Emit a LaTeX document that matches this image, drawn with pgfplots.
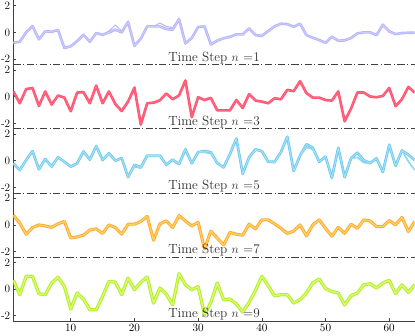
\documentclass[border=0pt]{standalone}
\usepackage{pgfplots}
\pgfplotsset{compat=1.18}
\usepackage{pgfplotstable}

\definecolor{axgray}{RGB}{64,64,64}
\definecolor{lavA}{RGB}{182,182,250}
\definecolor{lavB}{RGB}{205,205,255}
\definecolor{redA}{RGB}{255,84,114}
\definecolor{redB}{RGB}{255,110,135}
\definecolor{bluA}{RGB}{116,199,236}
\definecolor{bluB}{RGB}{160,228,248}
\definecolor{orA}{RGB}{255,166,58}
\definecolor{orB}{RGB}{255,214,90}
\definecolor{grA}{RGB}{172,238,48}
\definecolor{grB}{RGB}{222,250,100}

% step n = 1
\pgfplotstableread[row sep=\\]{
x y y2\\
1 -0.78 -0.78\\ 2 -0.70 -0.70\\ 3 0.00 0.00\\ 4 0.47 0.47\\ 5 -0.52 -0.52\\
6 0.08 0.08\\ 7 0.05 0.05\\ 8 0.18 0.18\\ 9 -1.17 -1.17\\ 10 -1.04 -1.04\\
11 -0.65 -0.65\\ 12 -0.18 -0.18\\ 13 -0.70 -0.70\\ 14 -0.05 -0.05\\ 15 -0.18 -0.18\\
16 0.00 0.10\\ 17 0.20 0.55\\ 18 0.00 0.10\\ 19 0.78 0.78\\ 20 -1.00 -1.00\\
21 -0.47 -0.47\\ 22 0.45 0.45\\ 23 0.45 0.45\\ 24 0.45 0.70\\ 25 0.25 0.45\\
26 0.20 0.35\\ 27 1.00 1.00\\ 28 -0.83 -0.83\\ 29 -0.42 -0.42\\ 30 0.40 0.40\\
31 0.45 0.45\\ 32 -0.90 -0.90\\ 33 -0.62 -0.62\\ 34 -0.44 -0.44\\ 35 -0.33 -0.33\\
36 -0.15 -0.15\\ 37 -0.15 -0.15\\ 38 0.30 0.30\\ 39 -0.20 -0.20\\ 40 -0.26 -0.26\\
41 0.10 0.10\\ 42 0.45 0.45\\ 43 0.65 0.65\\ 44 0.62 0.62\\ 45 0.42 0.42\\
46 0.65 0.65\\ 47 -0.20 -0.20\\ 48 -0.40 -0.40\\ 49 -0.57 -0.57\\ 50 -0.78 -0.78\\
51 -0.33 -0.33\\ 52 -0.62 -0.62\\ 53 -0.60 -0.60\\ 54 -0.42 -0.42\\ 55 -0.08 -0.08\\
56 0.00 0.00\\ 57 0.00 0.00\\ 58 -0.20 -0.20\\ 59 0.57 0.57\\ 60 0.08 0.08\\
61 -0.13 -0.13\\ 62 -0.05 -0.05\\ 63 -0.03 -0.03\\ 64 -0.03 -0.03\\
}\stepA

% step n = 3
\pgfplotstableread[row sep=\\]{
x y\\
1 0.38\\ 2 -0.50\\ 3 0.56\\ 4 0.64\\ 5 -0.70\\ 6 0.38\\ 7 -0.60\\ 8 0.08\\ 9 -0.08\\ 10 -1.10\\
11 0.30\\ 12 0.33\\ 13 -0.50\\ 14 0.82\\ 15 -0.50\\ 16 0.38\\ 17 -0.56\\ 18 -1.08\\ 19 -0.38\\ 20 0.67\\
21 -2.10\\ 22 -0.50\\ 23 -0.46\\ 24 -0.28\\ 25 0.23\\ 26 -0.20\\ 27 0.08\\ 28 1.20\\ 29 -1.54\\ 30 -0.05\\
31 -0.26\\ 32 -0.10\\ 33 -1.03\\ 34 -1.03\\ 35 -1.03\\ 36 -0.26\\ 37 -0.85\\ 38 0.18\\ 39 -0.30\\ 40 -0.38\\
41 -0.50\\ 42 -0.13\\ 43 -0.20\\ 44 0.50\\ 45 0.40\\ 46 1.15\\ 47 0.26\\ 48 -0.08\\ 49 -0.08\\ 50 -0.26\\
51 -0.30\\ 52 0.38\\ 53 -1.85\\ 54 -0.90\\ 55 0.30\\ 56 0.30\\ 57 0.00\\ 58 -0.05\\ 59 0.05\\ 60 0.64\\
61 -0.72\\ 62 -0.20\\ 63 0.72\\ 64 0.30\\
}\stepB

% step n = 5
\pgfplotstableread[row sep=\\]{
x y y2\\
1 -0.20 -0.20\\ 2 -0.70 -0.70\\ 3 0.05 0.05\\ 4 0.72 0.72\\ 5 -0.64 -0.64\\
6 0.13 0.13\\ 7 -0.44 -0.44\\ 8 0.26 0.26\\ 9 -0.08 -0.08\\ 10 -0.44 -0.44\\
11 -0.20 -0.20\\ 12 0.70 0.70\\ 13 0.08 0.08\\ 14 1.10 1.10\\ 15 0.05 0.05\\
16 0.56 0.56\\ 17 0.00 0.00\\ 18 0.20 0.20\\ 19 -1.23 -1.23\\ 20 -0.30 -0.45\\
21 -0.50 -0.55\\ 22 0.38 0.32\\ 23 0.38 0.32\\ 24 0.38 0.32\\ 25 -0.30 -0.30\\
26 0.08 0.08\\ 27 -0.26 -0.26\\ 28 0.85 0.85\\ 29 -0.20 -0.20\\ 30 0.64 0.64\\
31 0.72 0.62\\ 32 0.64 0.55\\ 33 -0.18 -0.18\\ 34 -0.50 -0.50\\ 35 0.50 0.50\\
36 1.67 1.67\\ 37 -0.98 -0.98\\ 38 0.26 0.26\\ 39 0.85 0.78\\ 40 0.72 0.72\\
41 -0.08 -0.08\\ 42 -0.08 -0.15\\ 43 0.64 0.64\\ 44 1.80 1.80\\ 45 -0.77 -0.77\\
46 0.38 0.38\\ 47 1.23 1.00\\ 48 0.97 0.85\\ 49 -0.08 -0.08\\ 50 0.30 0.30\\
51 -1.28 -1.28\\ 52 0.97 0.97\\ 53 -1.23 -1.23\\ 54 0.18 0.18\\ 55 0.60 0.25\\
56 0.05 -0.15\\ 57 -0.18 -0.18\\ 58 0.18 0.18\\ 59 -0.85 -0.85\\ 60 1.20 1.20\\
61 -0.38 -0.38\\ 62 0.77 0.77\\ 63 0.45 -0.05\\ 64 0.05 -0.70\\
}\stepC

% step n = 7
\pgfplotstableread[row sep=\\]{
x y\\
1 0.72\\ 2 0.13\\ 3 -0.70\\ 4 -0.20\\ 5 0.00\\ 6 -0.08\\ 7 -0.18\\ 8 0.08\\ 9 0.26\\ 10 -0.98\\
11 -0.90\\ 12 -0.77\\ 13 -0.38\\ 14 -0.30\\ 15 -0.64\\ 16 0.00\\ 17 -0.20\\ 18 -0.70\\ 19 0.05\\ 20 0.05\\
21 0.26\\ 22 0.64\\ 23 -1.15\\ 24 0.08\\ 25 0.30\\ 26 -0.20\\ 27 0.70\\ 28 0.30\\ 29 -0.08\\ 30 0.20\\
31 -1.80\\ 32 -0.46\\ 33 -0.98\\ 34 -1.50\\ 35 -0.56\\ 36 -0.70\\ 37 -0.77\\ 38 0.05\\ 39 -0.30\\ 40 0.38\\
41 0.38\\ 42 0.08\\ 43 -0.26\\ 44 -0.64\\ 45 -0.46\\ 46 0.00\\ 47 -0.82\\ 48 0.00\\ 49 0.38\\ 50 -0.26\\
51 -0.85\\ 52 -0.18\\ 53 -0.64\\ 54 0.05\\ 55 -0.26\\ 56 0.38\\ 57 0.30\\ 58 -0.13\\ 59 -0.13\\ 60 0.33\\
61 0.00\\ 62 0.56\\ 63 -0.50\\ 64 0.26\\
}\stepD

% step n = 9
\pgfplotstableread[row sep=\\]{
x y\\
1 0.65\\ 2 -0.42\\ 3 0.95\\ 4 0.95\\ 5 -0.35\\ 6 -0.42\\ 7 0.45\\ 8 0.88\\ 9 0.20\\ 10 -1.50\\
11 -0.30\\ 12 -0.75\\ 13 -1.55\\ 14 -1.55\\ 15 -0.55\\ 16 0.57\\ 17 0.52\\ 18 -0.42\\ 19 0.82\\ 20 -0.05\\
21 0.50\\ 22 0.90\\ 23 -1.05\\ 24 0.08\\ 25 -0.38\\ 26 -1.18\\ 27 1.15\\ 28 0.32\\ 29 -0.05\\ 30 0.18\\
31 -1.92\\ 32 -1.00\\ 33 0.45\\ 34 -0.80\\ 35 -0.75\\ 36 -1.12\\ 37 -1.72\\ 38 -1.00\\ 39 -0.10\\ 40 0.95\\
41 0.25\\ 42 -0.50\\ 43 -0.42\\ 44 -0.42\\ 45 -1.05\\ 46 -0.80\\ 47 -0.30\\ 48 0.45\\ 49 0.75\\ 50 0.03\\
51 -0.18\\ 52 -0.30\\ 53 -1.18\\ 54 -0.50\\ 55 -0.30\\ 56 0.32\\ 57 0.40\\ 58 0.08\\ 59 0.45\\ 60 0.65\\
61 -0.35\\ 62 0.32\\ 63 -0.25\\ 64 0.32\\
}\stepE

\pgfplotsset{
  panel/.style={
    scale only axis, width=394pt, height=63pt,
    xmin=1, xmax=64, ymin=-2.4, ymax=2.4,
    axis lines*=left,
    axis line style={axgray, line width=0.6pt},
    x axis line style={dash pattern=on 7pt off 2.5pt on 1pt off 2.5pt},
    tick style={axgray, line width=0.6pt},
    tick align=inside, major tick length=3pt,
    ytick={-2,0,2}, yticklabels={-2,0,2},
    xtick=\empty,
    tick label style={font=\fontsize{11}{13}\selectfont},
    yticklabel style={inner sep=1pt, xshift=-2pt},
  },
  band/.style={line width=2.6pt, line join=round, #1},
  core/.style={line width=0.8pt, line join=round, #1},
}

\newcommand{\steplabel}[1]{\node[anchor=south, font=\fontsize{13}{15}\selectfont, inner sep=0.6pt, text=axgray!70!black]
  at (rel axis cs:0.5,0) {Time Step $n$ =#1};}

\begin{document}
\begin{tikzpicture}
\begin{axis}[panel]
  \addplot[core=lavA, line width=1pt] table[x=x, y=y2] {\stepA};
  \addplot[band=lavA] table[x=x, y=y] {\stepA};
  \addplot[core=lavB] table[x=x, y=y] {\stepA};
  \steplabel{1}
\end{axis}
\begin{axis}[panel, at={(0,-63pt)}]
  \addplot[band=redA] table[x=x, y=y] {\stepB};
  \addplot[core=redB, line width=0.6pt] table[x=x, y=y] {\stepB};
  \steplabel{3}
\end{axis}
\begin{axis}[panel, at={(0,-126pt)}]
  \addplot[core=bluA, line width=1.4pt] table[x=x, y=y2] {\stepC};
  \addplot[band=bluA] table[x=x, y=y] {\stepC};
  \addplot[core=bluB] table[x=x, y=y] {\stepC};
  \addplot[core=bluB, line width=0.5pt] table[x=x, y=y2] {\stepC};
  \steplabel{5}
\end{axis}
\begin{axis}[panel, at={(0,-189pt)}]
  \addplot[band=orA, line width=3pt] table[x=x, y=y] {\stepD};
  \addplot[core=orB, line width=1.2pt] table[x=x, y=y] {\stepD};
  \steplabel{7}
\end{axis}
\begin{axis}[panel, at={(0,-252pt)},
    x axis line style={solid},
    xtick={10,20,...,60}]
  \addplot[band=grA, line width=3.2pt] table[x=x, y=y] {\stepE};
  \addplot[core=grB, line width=1.4pt] table[x=x, y=y] {\stepE};
  \steplabel{9}
\end{axis}
\end{tikzpicture}
\end{document}
